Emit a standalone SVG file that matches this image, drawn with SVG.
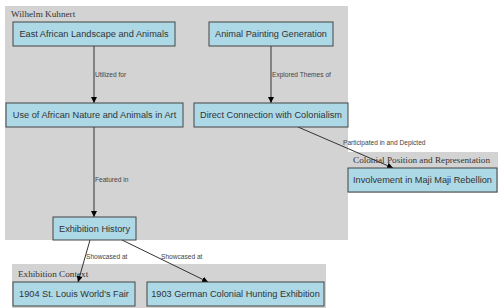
<svg xmlns="http://www.w3.org/2000/svg" width="500" height="308" viewBox="0 0 500 308">
<defs>
<marker id="arr" markerWidth="6" markerHeight="6" refX="6" refY="3" orient="auto" markerUnits="userSpaceOnUse">
<path d="M0,0 L6,3 L0,6 Z" fill="#000"/>
</marker>
<style>
.cluster{fill:#d3d3d3;stroke:none}
.clabel{font-family:"Liberation Serif","Times New Roman",serif;font-size:9.2px;fill:#333}
.node rect{fill:#add8e6;stroke:#444;stroke-width:1}
.node text{font-family:"Liberation Sans",Arial,sans-serif;font-size:9.2px;fill:#333;text-anchor:middle}
.edge{stroke:#333;stroke-width:1;fill:none;marker-end:url(#arr)}
.elabel{font-family:"Liberation Sans",Arial,sans-serif;font-size:6.6px;fill:#444}
</style>
</defs>
<g id="clusters">
<g id="cluster-kuhnert"><rect class="cluster" x="5" y="6" width="343" height="234"/><text class="clabel" x="11" y="17">Wilhelm Kuhnert</text></g>
<g id="cluster-colonial"><rect class="cluster" x="346" y="152" width="152" height="41"/><text class="clabel" x="353" y="163">Colonial Position and Representation</text></g>
<g id="cluster-exhibition"><rect class="cluster" x="12" y="264" width="314" height="44"/><text class="clabel" x="18" y="277">Exhibition Context</text></g>
</g>
<g id="connectors">
<line class="edge" x1="94" y1="46" x2="94" y2="103"/>
<text class="elabel" x="95" y="77">Utilized for</text>
<line class="edge" x1="271" y1="46" x2="271" y2="103"/>
<text class="elabel" x="272" y="77">Explored Themes of</text>
<line class="edge" x1="298" y1="127" x2="393" y2="168"/>
<text class="elabel" x="343" y="145">Participated in and Depicted</text>
<line class="edge" x1="94" y1="127" x2="94" y2="217"/>
<text class="elabel" x="95" y="182">Featured in</text>
<line class="edge" x1="90" y1="240" x2="78" y2="282"/>
<text class="elabel" x="86" y="259">Showcased at</text>
<line class="edge" x1="122" y1="240" x2="208" y2="282"/>
<text class="elabel" x="161" y="259">Showcased at</text>
</g>
<g id="node-east-african" class="node"><rect x="13" y="22" width="162" height="24"/><text x="94" y="37.2">East African Landscape and Animals</text></g>
<g id="node-animal-painting" class="node"><rect x="209" y="22" width="124" height="24"/><text x="271" y="37.2">Animal Painting Generation</text></g>
<g id="node-use-african" class="node"><rect x="6" y="103" width="177" height="24"/><text x="94.5" y="118.2">Use of African Nature and Animals in Art</text></g>
<g id="node-direct-connection" class="node"><rect x="194" y="103" width="154" height="24"/><text x="271" y="118.2">Direct Connection with Colonialism</text></g>
<g id="node-maji-maji" class="node"><rect x="348" y="168" width="149" height="24"/><text x="422.5" y="183.2">Involvement in Maji Maji Rebellion</text></g>
<g id="node-exhibition-history" class="node"><rect x="53" y="217" width="83" height="23"/><text x="94.5" y="231.7">Exhibition History</text></g>
<g id="node-st-louis" class="node"><rect x="13" y="282" width="122" height="24"/><text x="74" y="297.2">1904 St. Louis World's Fair</text></g>
<g id="node-german-hunting" class="node"><rect x="147" y="282" width="177" height="24"/><text x="235.5" y="297.2">1903 German Colonial Hunting Exhibition</text></g>
</svg>
